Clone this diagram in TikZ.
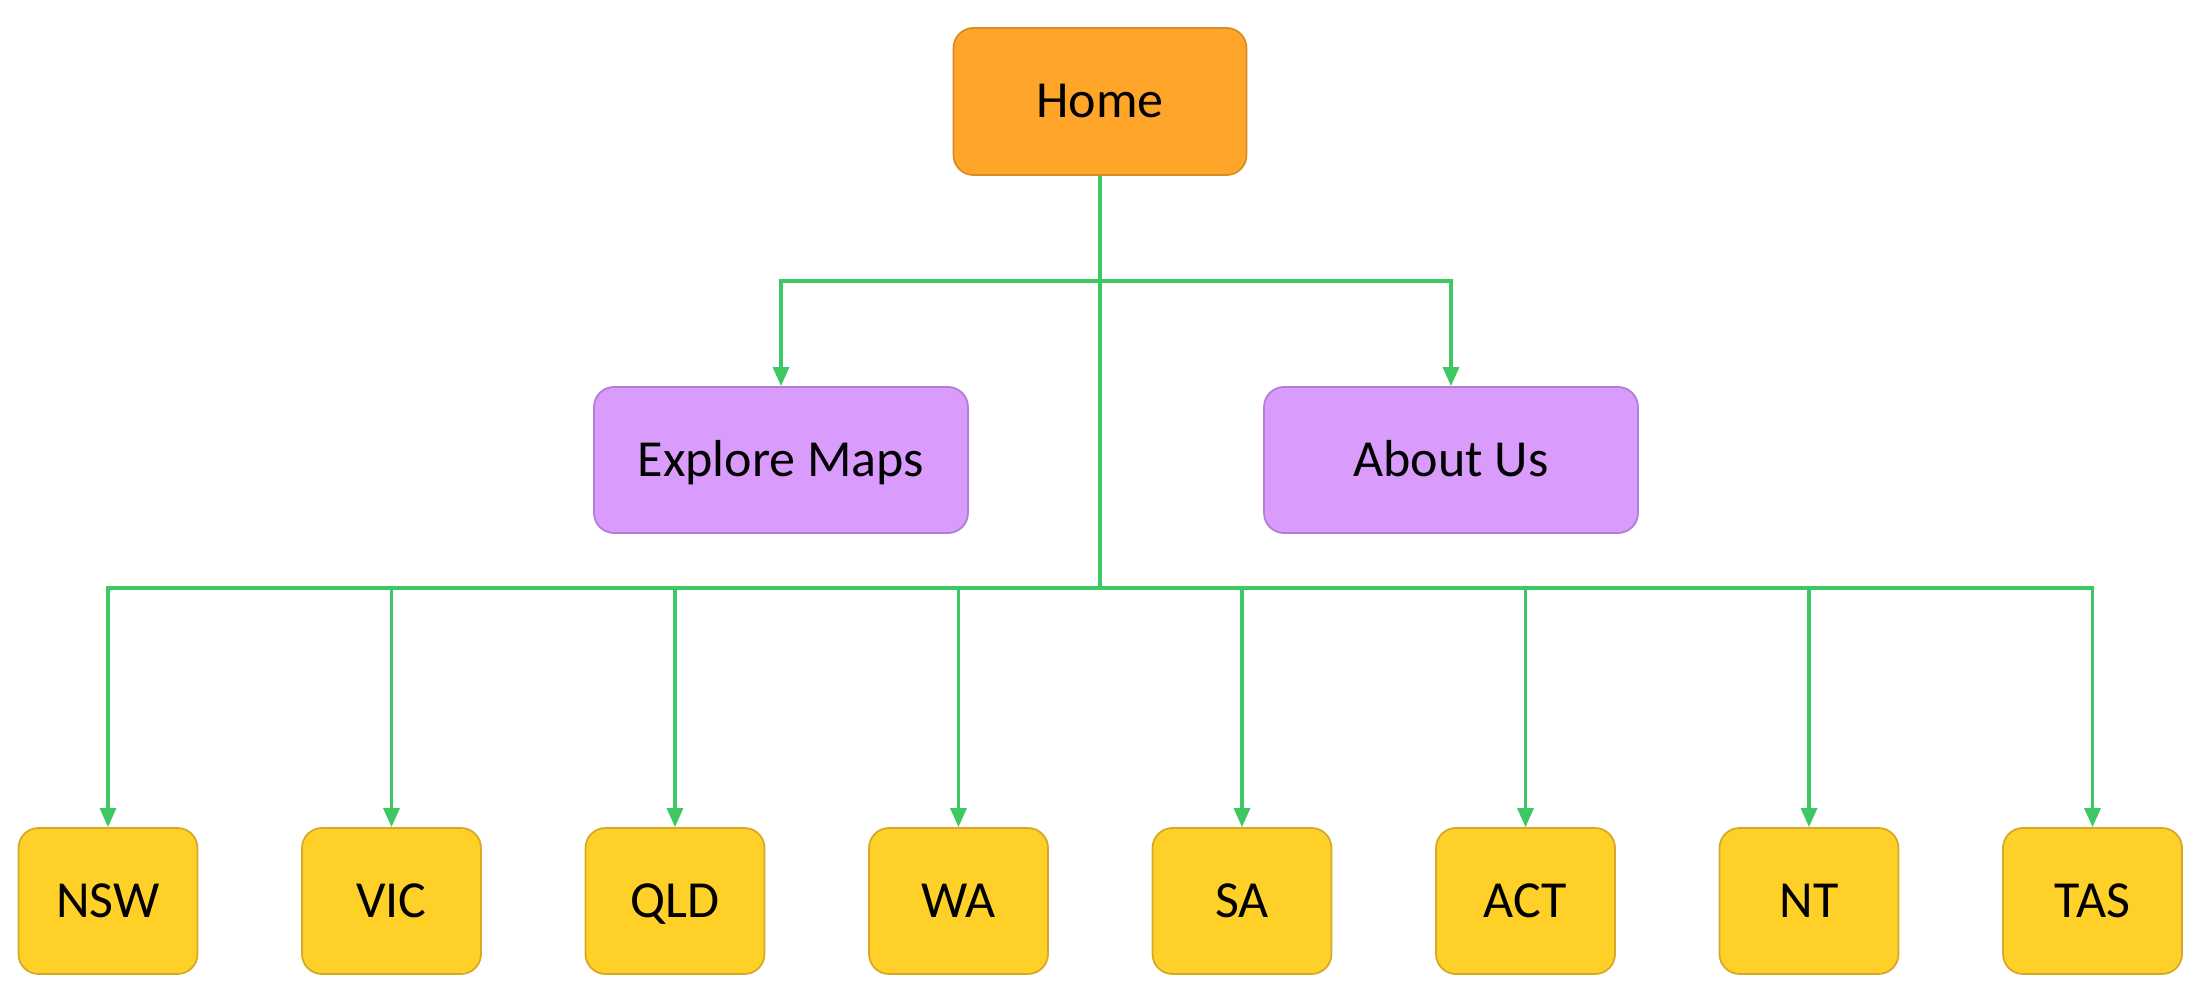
\documentclass[tikz,border=0pt]{standalone}
\usepackage{fontspec}
\setmainfont{Carlito}
\usetikzlibrary{arrows.meta}
\definecolor{homefill}{HTML}{FFA52A}
\definecolor{homeline}{HTML}{D98C24}
\definecolor{pagefill}{HTML}{D99BFC}
\definecolor{pageline}{HTML}{B07ED8}
\definecolor{statefill}{HTML}{FFD028}
\definecolor{stateline}{HTML}{D6A828}
\definecolor{linkgreen}{HTML}{3DC864}

\begin{document}
\begin{tikzpicture}[x=1cm,y=1cm,
		box/.style={rounded corners=0.2cm, line width=0.5pt, inner sep=0pt, align=center,
			text height=9.3pt, text depth=0pt, font=\fontsize{14.8}{17}\selectfont},
		homebox/.style={box, fill=homefill, draw=homeline, minimum width=2.93cm, minimum height=1.47cm},
		pagebox/.style={box, fill=pagefill, draw=pageline, minimum width=3.74cm, minimum height=1.46cm},
		statebox/.style={box, fill=statefill, draw=stateline, minimum width=1.79cm, minimum height=1.46cm},
		link/.style={draw=linkgreen, line width=0.9pt},
		linkarrow/.style={link, -{Triangle[length=0.19cm, width=0.16cm]}}]
		\useasboundingbox (0,0) rectangle (22.07,10.04);
		
		\node[homebox] (home) at (11.0,9.025) {Home};
		\node[pagebox] (explore) at (7.81,5.44) {Explore Maps};
		\node[pagebox] (about) at (14.51,5.44) {About Us};
		
		\foreach \st [count=\i from 0] in {NSW,VIC,QLD,WA,SA,ACT,NT,TAS}
			\node[statebox] (\st) at (1.08+\i*2.835,1.03) {\st};
		
		% trunk
		\draw[link] (home.south) -- (home.south |- 0,4.16) coordinate (hub);
		\coordinate (split) at (home.south |- 0,7.23);
		\draw[linkarrow] (split) -| (explore.north);
		\draw[linkarrow] (split) -| (about.north);
		
		\foreach \st in {NSW,VIC,QLD,WA,SA,ACT,NT,TAS}
			\draw[linkarrow] (hub) -| (\st.north);
	\end{tikzpicture}
\end{document}
